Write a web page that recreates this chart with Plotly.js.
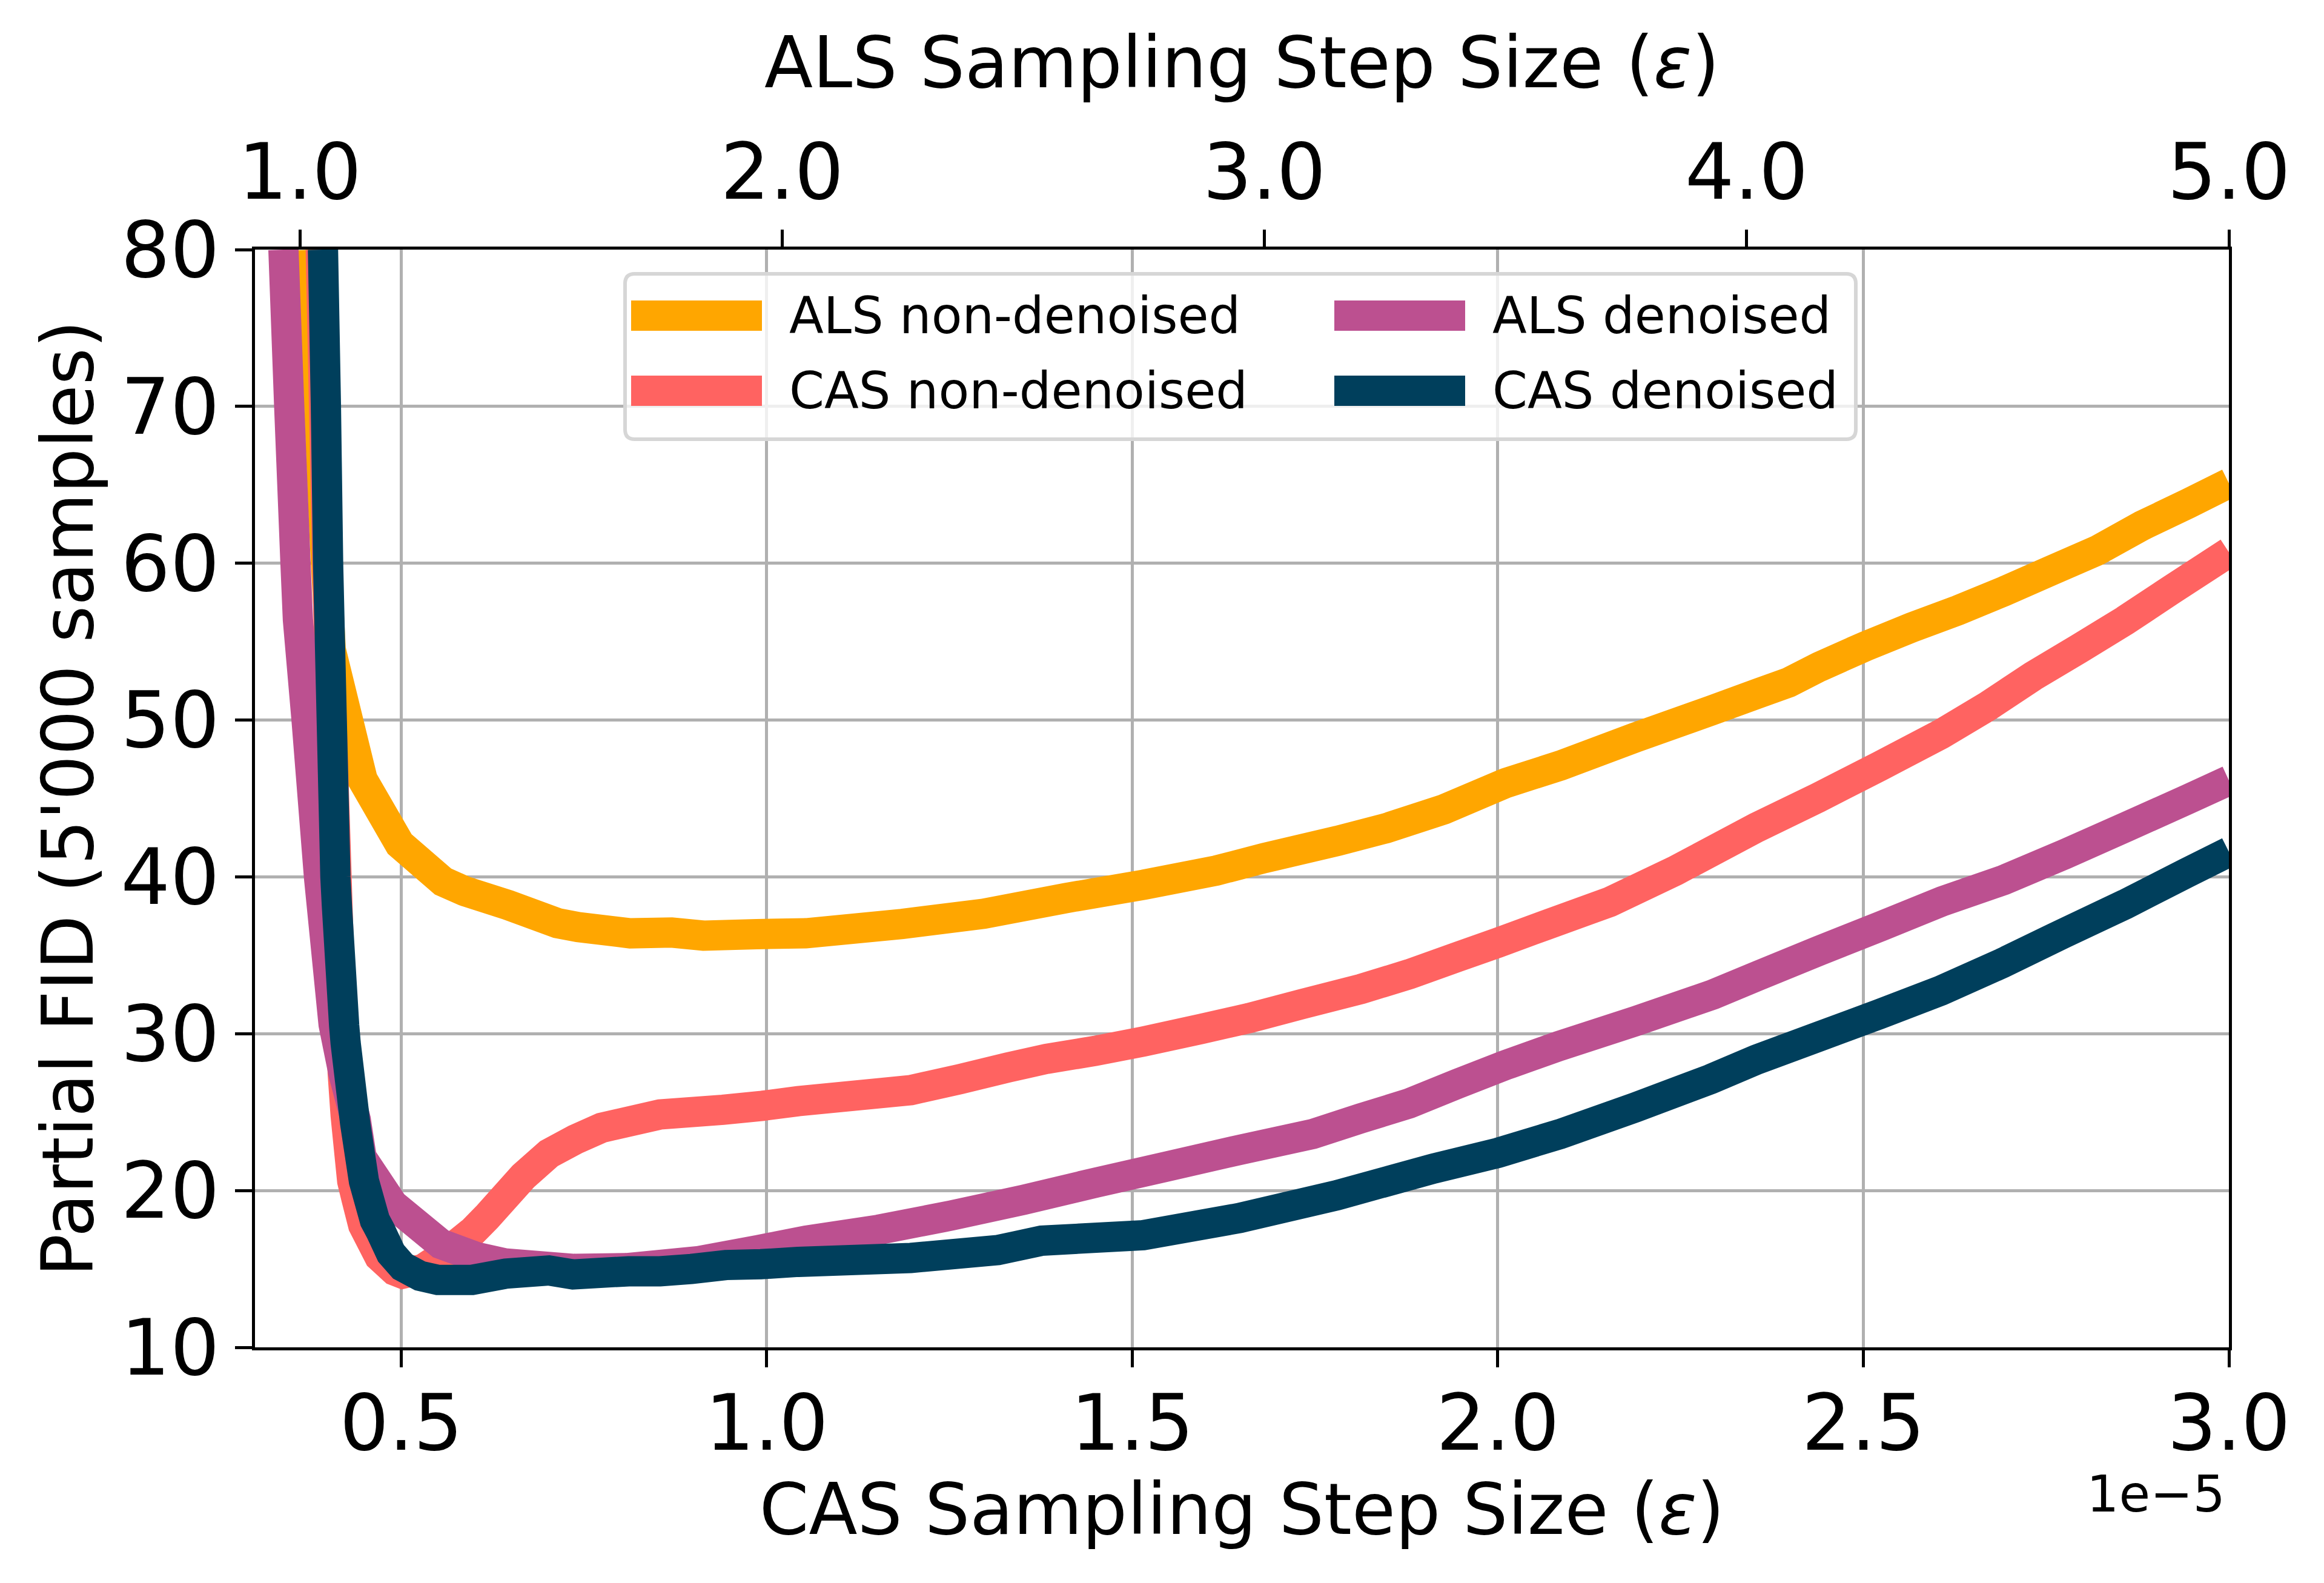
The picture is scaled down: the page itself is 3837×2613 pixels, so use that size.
<!DOCTYPE html>
<html>
<head>
<meta charset="utf-8">
<script src="https://cdn.plot.ly/plotly-3.0.1.min.js"></script>
<style>html,body{margin:0;padding:0;background:#fff;}#chart{width:3837px;height:2613px;}</style>
</head>
<body>
<div id="chart"></div>
<script>
// ALS step size (top axis), partial FID values
const alsStepNonDen = [1.027, 1.050, 1.064, 1.130, 1.207, 1.297, 1.341, 1.432, 1.534, 1.577, 1.685, 1.771, 1.837, 1.947, 2.049, 2.249, 2.418, 2.589, 2.750, 2.900, 3.000, 3.152, 3.252, 3.372, 3.502, 3.614, 3.770, 3.926, 4.024, 4.087, 4.151, 4.246, 4.342, 4.438, 4.533, 4.629, 4.726, 4.820, 4.915, 5.000];
const alsFidNonDen  = [80, 62.5, 54.5, 46.2, 42.1, 39.7, 39.1, 38.2, 37.05, 36.8, 36.4, 36.45, 36.25, 36.35, 36.4, 37.0, 37.65, 38.65, 39.5, 40.4, 41.2, 42.3, 43.1, 44.3, 46.0, 47.1, 48.9, 50.6, 51.7, 52.4, 53.4, 54.7, 55.9, 57.0, 58.2, 59.5, 60.8, 62.4, 63.8, 65.1];

const alsStepDen = [0.966, 0.978, 0.991, 0.996, 1.014, 1.040, 1.070, 1.091, 1.116, 1.128, 1.193, 1.292, 1.367, 1.425, 1.569, 1.677, 1.828, 1.950, 2.050, 2.200, 2.350, 2.500, 2.650, 2.800, 2.950, 3.100, 3.200, 3.300, 3.400, 3.500, 3.610, 3.770, 3.930, 4.024, 4.151, 4.278, 4.406, 4.533, 4.660, 4.788, 4.915, 5.000];
const alsFidDen  = [80, 70, 60, 56.4, 50.0, 39.9, 30.6, 27.4, 24.5, 22.1, 19.1, 16.6, 15.75, 15.35, 15.0, 15.05, 15.5, 16.2, 16.8, 17.5, 18.4, 19.4, 20.5, 21.55, 22.6, 23.6, 24.6, 25.55, 26.8, 28.0, 29.2, 30.8, 32.5, 33.7, 35.3, 36.85, 38.45, 39.8, 41.45, 43.2, 44.95, 46.15];

// CAS step size (bottom axis, units of 1e-5), partial FID values
const casStepNonDen = [0.390, 0.401, 0.420, 0.424, 0.433, 0.439, 0.448, 0.470, 0.491, 0.502, 0.530, 0.554, 0.598, 0.617, 0.667, 0.702, 0.738, 0.774, 0.854, 0.940, 0.994, 1.043, 1.197, 1.264, 1.330, 1.383, 1.449, 1.515, 1.594, 1.660, 1.733, 1.813, 1.879, 1.945, 2.000, 2.064, 2.153, 2.243, 2.354, 2.438, 2.522, 2.606, 2.669, 2.732, 2.795, 2.858, 2.921, 3.000];
const casFidNonDen  = [80, 55.5, 27.5, 24.8, 20.6, 19.45, 17.8, 15.8, 14.9, 14.7, 15.0, 15.75, 17.4, 18.3, 20.9, 22.35, 23.25, 24.0, 24.85, 25.15, 25.4, 25.7, 26.4, 27.1, 27.85, 28.4, 28.9, 29.5, 30.3, 31.0, 31.9, 32.85, 33.8, 34.9, 35.8, 36.9, 38.4, 40.4, 43.15, 45.05, 47.05, 49.1, 50.85, 52.8, 54.55, 56.35, 58.3, 60.7];

const casStepDen = [0.393, 0.397, 0.400, 0.405, 0.410, 0.412, 0.422, 0.424, 0.437, 0.449, 0.464, 0.472, 0.486, 0.502, 0.526, 0.550, 0.571, 0.597, 0.643, 0.702, 0.735, 0.811, 0.854, 0.897, 0.944, 0.992, 1.043, 1.197, 1.316, 1.376, 1.515, 1.647, 1.780, 1.912, 2.000, 2.085, 2.188, 2.291, 2.354, 2.438, 2.522, 2.606, 2.690, 2.774, 2.858, 2.942, 3.000];
const casFidDen  = [80, 70, 60, 50, 40, 38.2, 30.5, 29.4, 24.3, 20.6, 18.1, 17.4, 16.0, 15.15, 14.55, 14.3, 14.3, 14.3, 14.7, 14.9, 14.65, 14.85, 14.85, 15.0, 15.25, 15.3, 15.45, 15.7, 16.2, 16.8, 17.15, 18.25, 19.7, 21.4, 22.4, 23.6, 25.3, 27.1, 28.35, 29.8, 31.25, 32.75, 34.5, 36.4, 38.25, 40.25, 41.6];

// tick labels
const casTickVals = [0.5, 1.0, 1.5, 2.0, 2.5, 3.0];
const casTickText = ['0.5', '1.0', '1.5', '2.0', '2.5', '3.0'];
const alsTickVals = [1, 2, 3, 4, 5];
const alsTickText = ['1.0', '2.0', '3.0', '4.0', '5.0'];
const fidTickVals = [10, 20, 30, 40, 50, 60, 70, 80];
const alsRange = [0.907, 5.0];
const casRange = [0.3, 3.0];

const seriesNames = ['ALS non-denoised', 'CAS non-denoised', 'ALS denoised', 'CAS denoised'];
const seriesColors = ['#FFA600', '#FF6361', '#BC5090', '#003F5C'];

const FONT = 'DejaVu Sans';
const W = 3837, H = 2613;
const M = {l: 421, r: 157, t: 412, b: 389};
const PW = W - M.l - M.r, PH = H - M.t - M.b;
const px = v => (v - M.l) / PW;          // page px -> paper x
const py = v => 1 - (v - M.t) / PH;      // page px -> paper y
const LW = 50;

// drawing order: orange, red, purple, navy (each on its own overlaid x axis so stacking is kept)
const traces = [
  {x: alsStepNonDen, y: alsFidNonDen, xaxis: 'x', yaxis: 'y', name: seriesNames[0]},
  {x: casStepNonDen, y: casFidNonDen, xaxis: 'x2', yaxis: 'y', name: seriesNames[1]},
  {x: alsStepDen, y: alsFidDen, xaxis: 'x3', yaxis: 'y', name: seriesNames[2]},
  {x: casStepDen, y: casFidDen, xaxis: 'x4', yaxis: 'y', name: seriesNames[3]}
].map((t, i) => Object.assign(t, {
  type: 'scatter', mode: 'lines', showlegend: false, hoverinfo: 'skip',
  line: {color: seriesColors[i], width: LW, simplify: false}
}));

// manual legend (matplotlib-style, 2 columns)
const legCols = [1042, 2203];
const legRows = [521, 645];
const legOrder = [[0, 1], [2, 3]]; // column -> series indices
const shapes = [];
const annotations = [];
shapes.push({
  type: 'path', xref: 'paper', yref: 'paper', xsizemode: 'pixel', ysizemode: 'pixel',
  xanchor: px(1032), yanchor: py(452),
  path: 'M 16,0 L 2016,0 Q 2032,0 2032,-16 L 2032,-257 Q 2032,-273 2016,-273 L 16,-273 Q 0,-273 0,-257 L 0,-16 Q 0,0 16,0 Z',
  fillcolor: 'rgba(255,255,255,0.8)', line: {color: '#d6d6d6', width: 6}, layer: 'above'
});
legOrder.forEach((col, c) => {
  col.forEach((s, r) => {
    shapes.push({type: 'line', xref: 'paper', yref: 'paper',
      x0: px(legCols[c]), x1: px(legCols[c] + 216), y0: py(legRows[r]), y1: py(legRows[r]),
      line: {color: seriesColors[s], width: LW}, layer: 'above'});
    annotations.push({xref: 'paper', yref: 'paper', x: px(legCols[c] + 259), y: py(legRows[r]),
      xanchor: 'left', yanchor: 'middle', showarrow: false, text: seriesNames[s],
      font: {family: FONT, size: 83, color: '#000'}});
  });
});
annotations.push({xref: 'paper', yref: 'paper', x: px(3676), y: py(2466), xanchor: 'right', yanchor: 'middle',
  showarrow: false, text: '1e\u22125', font: {family: FONT, size: 84, color: '#000'}});

const axisCommon = {
  showline: true, linecolor: '#000', linewidth: 5,
  ticks: 'outside', ticklen: 28, tickwidth: 5, tickcolor: '#000',
  tickfont: {family: FONT, size: 128, color: '#000'},
  zeroline: false, automargin: false
};
const titleFont = {family: FONT, size: 117, color: '#000'};

const layout = {
  width: W, height: H,
  margin: M,
  paper_bgcolor: '#fff', plot_bgcolor: '#fff',
  font: {family: FONT, color: '#000'},
  xaxis: Object.assign({}, axisCommon, {
    side: 'top', anchor: 'y',
    range: alsRange, tickmode: 'array', tickvals: alsTickVals, ticktext: alsTickText,
    showgrid: false,
    title: {text: 'ALS Sampling Step Size (<i>ε</i>)', font: titleFont, standoff: 26}
  }),
  xaxis2: Object.assign({}, axisCommon, {
    side: 'bottom', overlaying: 'x', anchor: 'y',
    range: casRange, tickmode: 'array', tickvals: casTickVals, ticktext: casTickText,
    ticklabelstandoff: -18,
    showgrid: true, gridcolor: '#b0b0b0', gridwidth: 5,
    title: {text: 'CAS Sampling Step Size (<i>ε</i>)', font: titleFont, standoff: 28}
  }),
  xaxis3: {overlaying: 'x', anchor: 'y', range: alsRange, visible: false, showgrid: false, zeroline: false},
  xaxis4: {overlaying: 'x', anchor: 'y', range: casRange, visible: false, showgrid: false, zeroline: false},
  yaxis: Object.assign({}, axisCommon, {
    range: [10, 80], tickmode: 'array', tickvals: fidTickVals, mirror: true,
    showgrid: true, gridcolor: '#b0b0b0', gridwidth: 5,
    title: {text: "Partial FID (5'000 samples)", font: titleFont, standoff: 8}
  }),
  shapes: shapes,
  annotations: annotations,
  showlegend: false
};

Plotly.newPlot('chart', traces, layout, {staticPlot: true, displayModeBar: false});
</script>
</body>
</html>
